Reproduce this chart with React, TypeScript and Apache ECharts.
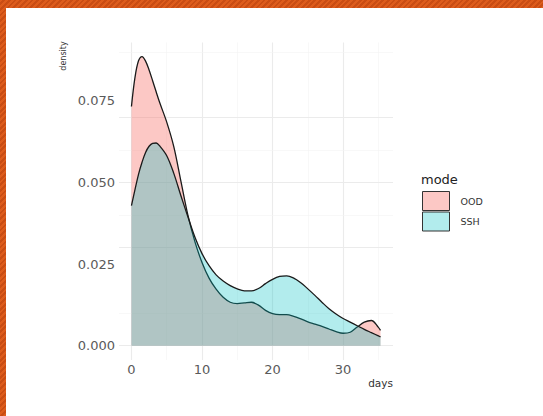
import React, { useEffect, useRef } from "react";
import * as echarts from "echarts";

const days = [0, 0.5, 1, 1.5, 2, 2.5, 3, 3.5, 4, 5, 6, 7, 8, 9, 10, 11, 12, 13, 14, 15, 16, 17, 18, 19, 20, 21, 22, 23, 24, 25, 26, 27, 28, 29, 30, 31, 32, 33, 34, 35, 35.3];
const oodDensity = [0.0733, 0.0822, 0.0873, 0.0886, 0.0872, 0.0845, 0.0812, 0.0778, 0.0745, 0.0685, 0.061, 0.0505, 0.04, 0.0318, 0.0255, 0.0207, 0.0173, 0.0148, 0.0133, 0.0129, 0.0131, 0.0133, 0.0124, 0.0108, 0.0098, 0.0095, 0.0095, 0.009, 0.0082, 0.0073, 0.0066, 0.0059, 0.0051, 0.0043, 0.0038, 0.0041, 0.0057, 0.0072, 0.0077, 0.0056, 0.0047];
const sshDensity = [0.0429, 0.0478, 0.0525, 0.0562, 0.0592, 0.0611, 0.062, 0.0621, 0.0612, 0.0582, 0.0528, 0.046, 0.0395, 0.0332, 0.0282, 0.0245, 0.0217, 0.0198, 0.0184, 0.0174, 0.0168, 0.0168, 0.0175, 0.019, 0.0203, 0.0212, 0.0214, 0.0207, 0.0193, 0.0174, 0.0154, 0.0133, 0.0113, 0.0097, 0.0083, 0.0072, 0.0061, 0.005, 0.004, 0.003, 0.0027];

const modes = ["OOD", "SSH"];
const xTicks = [0, 10, 20, 30];
const xMinorTicks = [5, 15, 25, 35];
const yTicks = [0, 0.025, 0.05, 0.075];
const yMinorTicks = [0.0125, 0.0375, 0.0625, 0.0875];

const xMin = -1.765;
const xMax = 37.07;
const yMin = -0.0044;
const yMax = 0.0929;

const FONT = "DejaVu Sans";
const OOD_FILL = "rgba(248,118,109,0.4)";
const SSH_FILL = "rgba(0,191,196,0.3)";

export default function App() {
  const ref = useRef<HTMLDivElement>(null);

  useEffect(() => {
    if (!ref.current) return;
    const chart = echarts.init(ref.current, null, { renderer: "svg" });
    const major = { color: "#EBEBEB", width: 1.1, type: "solid" };
    const minor = { color: "#F3F3F3", width: 0.6, type: "solid" };
    const gridLines = [
      ...xTicks.map((v) => ({ xAxis: v, lineStyle: major })),
      ...xMinorTicks.map((v) => ({ xAxis: v, lineStyle: minor })),
      ...yTicks.map((v) => ({ yAxis: v, lineStyle: major })),
      ...yMinorTicks.map((v) => ({ yAxis: v, lineStyle: minor })),
    ];
    const toPairs = (ys: number[]) => days.map((d, i) => [d, ys[i]]);
    chart.setOption({
      animation: false,
      grid: { left: 119, right: 150, top: 42.5, bottom: 56, containLabel: false },
      xAxis: {
        type: "value",
        min: xMin,
        max: xMax,
        axisLine: { show: false },
        axisTick: { show: false },
        splitLine: { show: false },
        axisLabel: {
          customValues: xTicks,
          color: "#5a5a5a",
          fontFamily: FONT,
          fontSize: 13,
          margin: 3,
        },
      },
      yAxis: {
        type: "value",
        min: yMin,
        max: yMax,
        axisLine: { show: false },
        axisTick: { show: false },
        splitLine: { show: false },
        axisLabel: {
          customValues: yTicks,
          formatter: (v: number) => v.toFixed(3),
          color: "#5a5a5a",
          fontFamily: FONT,
          fontSize: 13,
          margin: 4,
        },
      },
      legend: {
        orient: "vertical",
        left: 422,
        top: 191,
        itemWidth: 27,
        itemHeight: 19,
        itemGap: 0.5,
        padding: 0,
        data: [
          { name: "OOD", icon: "rect", itemStyle: { color: OOD_FILL, borderColor: "#333", borderWidth: 1 } },
          { name: "SSH", icon: "rect", itemStyle: { color: SSH_FILL, borderColor: "#333", borderWidth: 1 } },
        ],
        textStyle: { color: "#333", fontFamily: FONT, fontSize: 9.5, padding: [0, 0, 0, 6] },
        selectedMode: false,
      },
      graphic: [
        {
          type: "text",
          x: 63,
          y: 56,
          rotation: Math.PI / 2,
          style: { text: "density", fill: "#333", font: `8px "${FONT}"`, align: "center", verticalAlign: "middle" },
        },
        {
          type: "text",
          x: 393,
          y: 383,
          style: { text: "days", fill: "#333", font: `10.5px "${FONT}"`, align: "right", verticalAlign: "middle" },
        },
        {
          type: "text",
          x: 421,
          y: 179,
          style: { text: "mode", fill: "#222", font: `13px "${FONT}"`, align: "left", verticalAlign: "middle" },
        },
      ],
      series: [
        {
          name: "grid",
          type: "line",
          data: [],
          z: 0,
          silent: true,
          markLine: { z: 0, silent: true, symbol: "none", label: { show: false }, animation: false, data: gridLines },
        },
        {
          name: modes[0],
          type: "line",
          data: toPairs(oodDensity),
          smooth: 0.35,
          showSymbol: false,
          symbol: "none",
          z: 2,
          itemStyle: { color: OOD_FILL },
          lineStyle: { color: "#1a1a1a", width: 1.3 },
          areaStyle: { color: OOD_FILL, opacity: 1 },
        },
        {
          name: modes[1],
          type: "line",
          data: toPairs(sshDensity),
          smooth: 0.35,
          showSymbol: false,
          symbol: "none",
          z: 3,
          itemStyle: { color: SSH_FILL },
          lineStyle: { color: "#1a1a1a", width: 1.3 },
          areaStyle: { color: SSH_FILL, opacity: 1 },
        },
      ],
    });
    return () => chart.dispose();
  }, []);

  return (
    <div
      style={{
        position: "fixed",
        left: 0,
        top: 0,
        width: 543,
        height: 416,
        background: "repeating-linear-gradient(135deg, #DD5C1C 0px, #DD5C1C 2px, #C94D14 2px, #C94D14 4px)",
      }}
    >
      <div style={{ position: "absolute", left: 6, top: 7.5, right: 0, bottom: 0, background: "#fff" }} />
      <div ref={ref} style={{ position: "absolute", left: 0, top: 0, width: 543, height: 416 }} />
    </div>
  );
}
